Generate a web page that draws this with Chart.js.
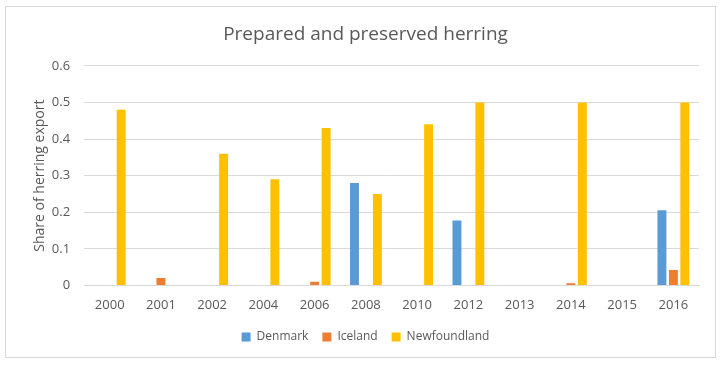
<!DOCTYPE html>
<html><head><meta charset="utf-8">
<script src="https://cdn.jsdelivr.net/npm/chart.js@4/dist/chart.umd.min.js"></script>
<style>
html,body{margin:0;padding:0;background:#fff;}
#box{position:absolute;left:5px;top:6px;width:709px;height:350px;border:1px solid #d9d9d9;background:#fff;}
canvas{display:block;}
</style></head><body>
<div id="box"><canvas id="c" width="709" height="350"></canvas></div>
<script>
const categories = ['2000','2001','2002','2004','2006','2008','2010','2012','2013','2014','2015','2016'];
const denmark      = [0, 0, 0, 0, 0, 0.28, 0, 0.177, 0, 0, 0, 0.205];
const iceland      = [0, 0.02, 0, 0, 0.01, 0, 0, 0, 0, 0.006, 0, 0.042];
const newfoundland = [0.48, 0, 0.36, 0.29, 0.43, 0.25, 0.44, 0.5, 0, 0.5, 0, 0.5];
const yTicks = [0, 0.1, 0.2, 0.3, 0.4, 0.5, 0.6];

const txt = '#595959';
const fam = "'Open Sans', 'Liberation Sans', sans-serif";
new Chart(document.getElementById('c'), {
  type: 'bar',
  data: {
    labels: categories,
    datasets: [
      {label:'Denmark', data: denmark, backgroundColor:'#5B9BD5'},
      {label:'Iceland', data: iceland, backgroundColor:'#ED7D31'},
      {label:'Newfoundland', data: newfoundland, backgroundColor:'#FFC000'}
    ]
  },
  options: {
    responsive:false, animation:false,
    datasets:{bar:{categoryPercentage:0.67, barPercentage:0.78}},
    layout:{padding:{left:26,right:16,top:10,bottom:4}},
    plugins:{
      title:{display:true,text:'Prepared and preserved herring',color:txt,font:{family:fam,size:19,weight:'normal'},padding:{top:6,bottom:20}},
      legend:{position:'bottom',labels:{color:txt,font:{family:fam,size:12},boxWidth:9,boxHeight:9,padding:14}},
      tooltip:{enabled:false}
    },
    scales:{
      x:{grid:{display:false},border:{color:'#d9d9d9'},ticks:{color:txt,font:{family:fam,size:13},maxRotation:0,autoSkip:false,padding:4}},
      y:{min:0,max:0.6,
         afterBuildTicks:(s)=>{s.ticks = yTicks.map(v=>({value:v}));},
         grid:{color:'#d9d9d9',drawTicks:false},border:{display:false},
         ticks:{color:txt,font:{family:fam,size:13},padding:14,callback:(v)=>String(Math.round(v*10)/10)},
         title:{display:true,text:'Share of herring export',color:txt,font:{family:fam,size:14},padding:{top:0,bottom:-11}}}
    }
  }
});
</script></body></html>
